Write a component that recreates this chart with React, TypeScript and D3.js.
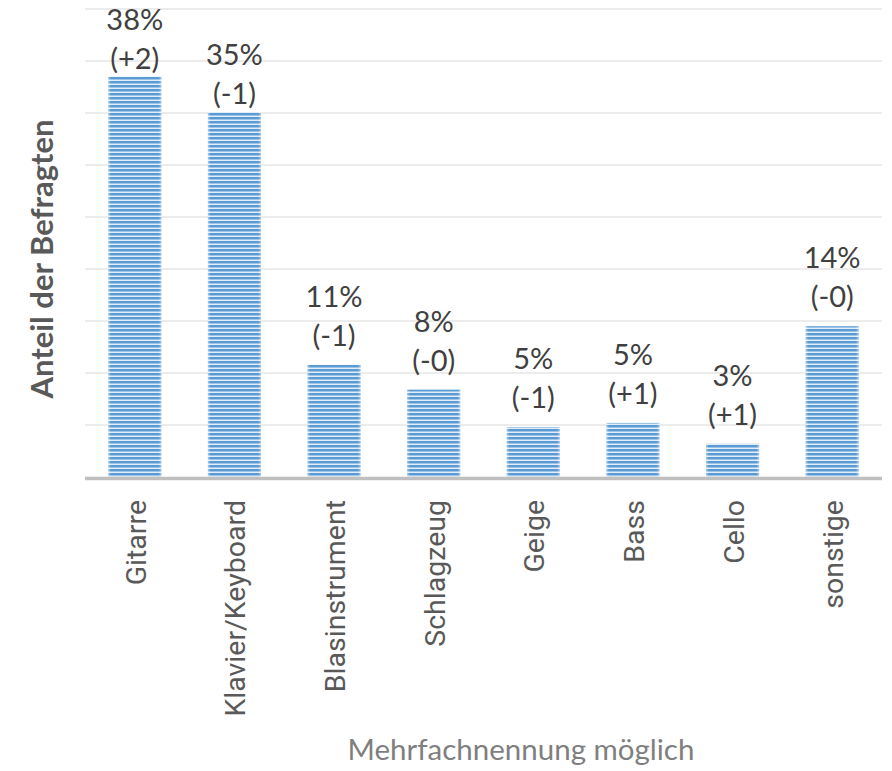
import React from "react";
import * as d3 from "d3";

const categories = ["Gitarre", "Klavier/Keyboard", "Blasinstrument", "Schlagzeug", "Geige", "Bass", "Cello", "sonstige"];
const values = [38.5, 35.1, 10.8, 8.4, 4.8, 5.2, 3.2, 14.5];
const valueLabels = ["38%", "35%", "11%", "8%", "5%", "5%", "3%", "14%"];
const changeLabels = ["(+2)", "(-1)", "(-1)", "(-0)", "(-1)", "(+1)", "(+1)", "(-0)"];
const gridTicks = [5, 10, 15, 20, 25, 30, 35, 40, 45];
const yTitle = "Anteil der Befragten";
const xTitle = "Mehrfachnennung möglich";

const W = 892;
const H = 771;
const left = 85;
const right = 882;
const top = 9;
const bottom = 477;

export default function App() {
  const x = d3.scaleBand<string>().domain(categories).range([left, right]).paddingInner(0.467).paddingOuter(0.2335);
  const y = d3.scaleLinear().domain([0, 45]).range([bottom, top]);
  const bw = x.bandwidth();

  return (
    <svg width={W} height={H} style={{ position: "absolute", left: 0, top: 0, display: "block", background: "#fff" }}>
      <defs>
        <pattern id="stripes" patternUnits="userSpaceOnUse" width={8} height={4} y={bottom}>
          <rect x={0} y={0} width={8} height={4} fill="#E2EDF8" />
          <rect x={0} y={0} width={8} height={2.5} fill="#5B9BD5" />
        </pattern>
        <linearGradient id="edge" x1="0" x2="1" y1="0" y2="0">
          <stop offset="0" stopColor="#fff" stopOpacity={0.45} />
          <stop offset="0.05" stopColor="#fff" stopOpacity={0} />
          <stop offset="0.95" stopColor="#fff" stopOpacity={0} />
          <stop offset="1" stopColor="#fff" stopOpacity={0.45} />
        </linearGradient>
      </defs>
      {gridTicks.map((t) => (
        <line key={t} x1={left} x2={right} y1={y(t)} y2={y(t)} stroke="#D9D9D9" strokeWidth={1} />
      ))}
      {categories.map((c, i) => {
        const x0 = x(c)!;
        const yt = y(values[i]);
        const cx = x0 + bw / 2;
        const gap = yt < 150 ? 8 : 19;
        const b2 = yt - gap;
        const b1 = b2 - 39;
        return (
          <g key={c}>
            <rect x={x0} y={yt} width={bw} height={bottom - yt} fill="url(#stripes)" />
            <rect x={x0} y={yt} width={bw} height={bottom - yt} fill="url(#edge)" />
            <text x={cx} y={b1} textAnchor="middle" fontFamily="Lato" fontSize={29} fill="#404040">{valueLabels[i]}</text>
            <text x={cx} y={b2} textAnchor="middle" fontFamily="Lato" fontSize={29} fill="#404040">{changeLabels[i]}</text>
            <text transform={`translate(${cx + 11},${500}) rotate(-90)`} textAnchor="end" fontFamily="Roboto" fontSize={28.5} fill="#595959">{c}</text>
          </g>
        );
      })}
      <line x1={left} x2={right} y1={bottom + 1.5} y2={bottom + 1.5} stroke="#BFBFBF" strokeWidth={3.5} />
      <text transform={`translate(53,259) rotate(-90)`} textAnchor="middle" fontFamily="Lato" fontWeight="bold" fontSize={31} fill="#595959">{yTitle}</text>
      <text x={521} y={760} textAnchor="middle" fontFamily="Lato" fontSize={29.5} fill="#7F7F7F">{xTitle}</text>
    </svg>
  );
}
